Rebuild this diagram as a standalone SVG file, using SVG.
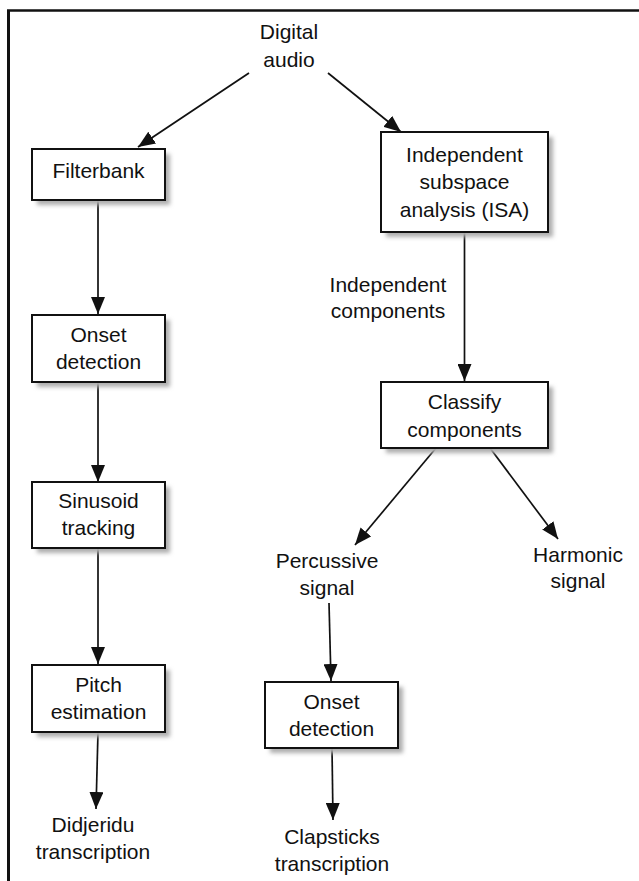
<svg xmlns="http://www.w3.org/2000/svg" width="639" height="881" viewBox="0 0 639 881">
<style>
text{font-family:"Liberation Sans",Arial,sans-serif;font-size:21px;fill:#111;text-anchor:middle}
.box{fill:#fff;stroke:#111;stroke-width:2}
.sh{fill:#adadad;filter:url(#blur)}
.edge{stroke:#111;stroke-width:1.7;fill:none;marker-end:url(#ah)}
</style>
<defs>
<filter id="blur" x="-10%" y="-10%" width="130%" height="130%"><feGaussianBlur stdDeviation="2"/></filter>
<marker id="ah" markerUnits="userSpaceOnUse" markerWidth="17" markerHeight="14" refX="17" refY="7" orient="auto"><path d="M0,0 L17,7 L0,14 z" fill="#111"/></marker>
</defs>
<rect width="639" height="881" fill="#fff"/>
<g id="frame"><line x1="8.5" y1="10" x2="8.5" y2="881" stroke="#111" stroke-width="3"/><line x1="7" y1="10.5" x2="639" y2="10.5" stroke="#111" stroke-width="2.5"/></g>
<g id="connectors">
<line class="edge" x1="249" y1="73" x2="138" y2="147"/>
<line class="edge" x1="328" y1="73" x2="401" y2="132"/>
<line class="edge" x1="98" y1="200" x2="98" y2="314"/>
<line class="edge" x1="98" y1="382" x2="98" y2="482"/>
<line class="edge" x1="98" y1="548" x2="98" y2="664"/>
<line class="edge" x1="98" y1="732" x2="96" y2="809"/>
<line class="edge" x1="464.5" y1="232" x2="464.5" y2="381"/>
<line class="edge" x1="436" y1="448" x2="355" y2="545"/>
<line class="edge" x1="490" y1="448" x2="558" y2="539"/>
<line class="edge" x1="329" y1="603" x2="331" y2="681"/>
<line class="edge" x1="332" y1="748" x2="333" y2="820"/>
</g>
<g id="digital-audio"><text x="289" y="39">Digital</text><text x="289" y="67">audio</text></g>
<g id="filterbank"><rect class="sh" x="37" y="154" width="133" height="51"/><rect class="box" x="32" y="149" width="133" height="51"/><text x="98.5" y="178">Filterbank</text></g>
<g id="isa"><rect class="sh" x="386" y="137" width="167" height="100"/><rect class="box" x="381" y="132" width="167" height="100"/><text x="464.5" y="162">Independent</text><text x="464.5" y="189">subspace</text><text x="464.5" y="217">analysis (ISA)</text></g>
<g id="independent-components"><text x="388" y="292">Independent</text><text x="388" y="318">components</text></g>
<g id="onset1"><rect class="sh" x="37" y="320" width="133" height="67"/><rect class="box" x="32" y="315" width="133" height="67"/><text x="98.5" y="342">Onset</text><text x="98.5" y="369">detection</text></g>
<g id="classify"><rect class="sh" x="386" y="387" width="167" height="66"/><rect class="box" x="381" y="382" width="167" height="66"/><text x="464.5" y="409">Classify</text><text x="464.5" y="437">components</text></g>
<g id="sinusoid"><rect class="sh" x="37" y="487" width="133" height="66"/><rect class="box" x="32" y="482" width="133" height="66"/><text x="98.5" y="508">Sinusoid</text><text x="98.5" y="535">tracking</text></g>
<g id="percussive"><text x="327" y="568">Percussive</text><text x="327" y="595">signal</text></g>
<g id="harmonic"><text x="578" y="562">Harmonic</text><text x="578" y="588">signal</text></g>
<g id="pitch"><rect class="sh" x="37" y="670" width="133" height="67"/><rect class="box" x="32" y="665" width="133" height="67"/><text x="98.5" y="692">Pitch</text><text x="98.5" y="719">estimation</text></g>
<g id="onset2"><rect class="sh" x="270" y="687" width="133" height="66"/><rect class="box" x="265" y="682" width="133" height="66"/><text x="331.5" y="709">Onset</text><text x="331.5" y="736">detection</text></g>
<g id="didjeridu"><text x="93" y="832">Didjeridu</text><text x="93" y="859">transcription</text></g>
<g id="clapsticks"><text x="332" y="844">Clapsticks</text><text x="332" y="871">transcription</text></g>
</svg>
